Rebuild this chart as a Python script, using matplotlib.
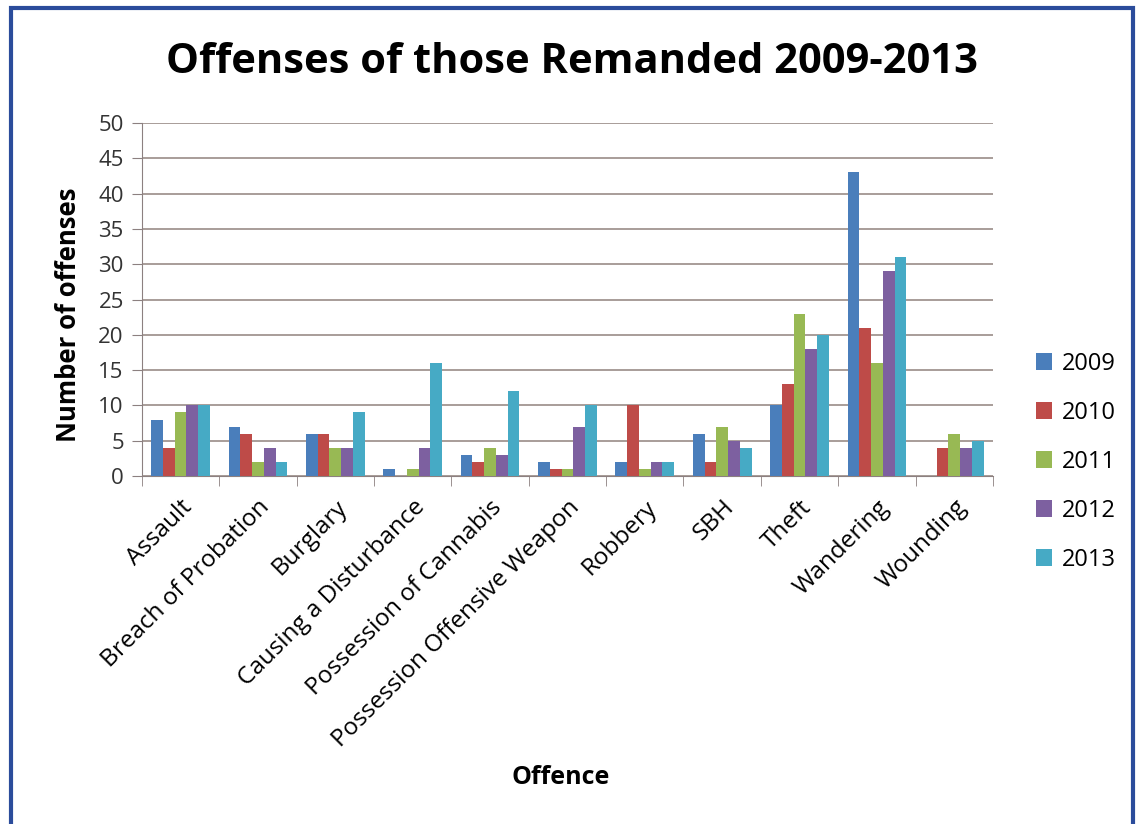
import numpy as np
import matplotlib.pyplot as plt
from matplotlib.patches import Rectangle

plt.rcParams['font.family'] = ['Open Sans', 'DejaVu Sans']

# offence categories and yearly counts
offences = ["Assault", "Breach of Probation", "Burglary", "Causing a Disturbance",
            "Possession of Cannabis", "Possession Offensive Weapon", "Robbery",
            "SBH", "Theft", "Wandering", "Wounding"]
years = ["2009", "2010", "2011", "2012", "2013"]
c2009 = [8, 7, 6, 1, 3, 2, 2, 6, 10, 43, 0]
c2010 = [4, 6, 6, 0, 2, 1, 10, 2, 13, 21, 4]
c2011 = [9, 2, 4, 1, 4, 1, 1, 7, 23, 16, 6]
c2012 = [10, 4, 4, 4, 3, 7, 2, 5, 18, 29, 4]
c2013 = [10, 2, 9, 16, 12, 10, 2, 4, 20, 31, 5]
colors = ["#4a7ebb", "#be4b48", "#98b954", "#7d60a0", "#46aac5"]

fig = plt.figure(figsize=(11.44, 8.24), dpi=100)
ax = fig.add_axes([0.124, 0.4223, 0.744, 0.4284])

x = np.arange(len(offences))
w = 0.152
for i, (vals, yr) in enumerate(zip([c2009, c2010, c2011, c2012, c2013], years)):
    ax.bar(x + (i - 2) * w, vals, width=w, color=colors[i], label=yr, zorder=3)

ax.set_xlim(-0.5, len(offences) - 0.5)
ax.set_ylim(0, 50)
ax.set_yticks(range(0, 51, 5))
ax.tick_params(axis='y', labelsize=16, length=7, color='#8c8080', colors='#333333', pad=6)
ax.set_xticks(x)
ax.set_xticklabels(offences, rotation=45, ha='right', rotation_mode='anchor', fontsize=17.5)
ax.set_xticks(np.arange(len(offences) + 1) - 0.5, minor=True)
ax.tick_params(axis='x', which='major', length=0, pad=14)
ax.tick_params(axis='x', which='minor', length=7, color='#8c8080')
ax.grid(axis='y', color='#9a8c88', linewidth=1.2, zorder=0)
for s in ['top', 'right']:
    ax.spines[s].set_visible(False)
ax.spines['left'].set_color('#8c8080')
ax.spines['bottom'].set_color('#8c8080')

ax.set_ylabel("Number of offenses", fontsize=18.5, fontweight='bold')
ax.yaxis.set_label_coords(-0.07, 0.456)
fig.text(0.49, 0.057, "Offence", fontsize=18, fontweight='bold', ha='center', va='center')
fig.text(0.50, 0.924, "Offenses of those Remanded 2009-2013", fontsize=30,
         fontweight='bold', ha='center', va='center')

leg = ax.legend(loc='center left', bbox_to_anchor=(1.05, 0.04), frameon=False,
                fontsize=17, handlelength=0.7, handleheight=0.7, labelspacing=1.06,
                handletextpad=0.4, borderaxespad=0, borderpad=0)

# blue frame around the chart
fig.patches.append(Rectangle((0.010, -0.05), 0.980, 1.04, transform=fig.transFigure,
                             fill=False, edgecolor='#2b4c9b', linewidth=3))

fig.savefig("out.png", dpi=100)
